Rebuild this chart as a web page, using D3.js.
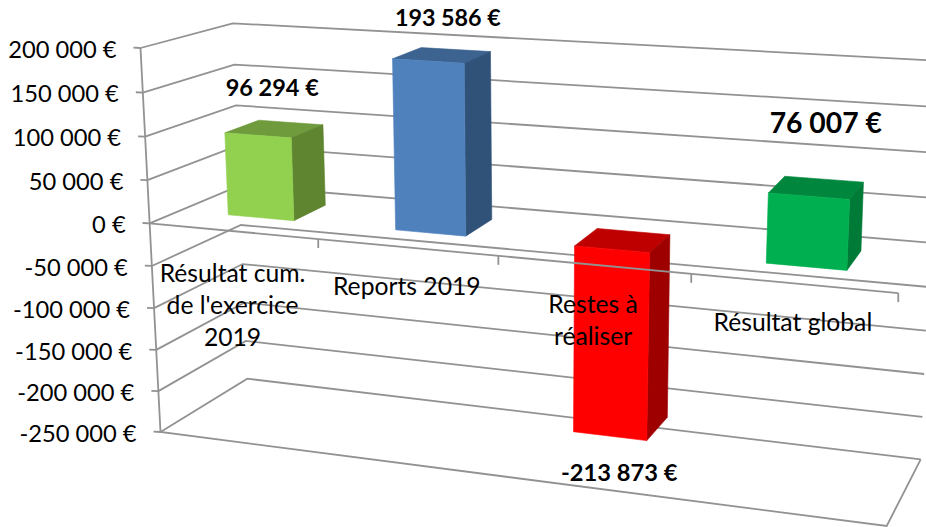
<!DOCTYPE html>
<html><head><meta charset="utf-8">
<script src="https://cdn.jsdelivr.net/npm/d3@7"></script>
<style>html,body{margin:0;padding:0;background:#fff}svg{display:block}text{font-family:Lato,"Open Sans",sans-serif;fill:#000}</style>
</head><body><svg id="c" width="926" height="527"></svg>
<script>
const categories = ["Résultat cum. de l'exercice 2019", "Reports 2019", "Restes à réaliser", "Résultat global"];
const categoryLines = [["Résultat cum.", "de l'exercice", "2019"], ["Reports 2019"], ["Restes à", "réaliser"], ["Résultat global"]];
const values = [96294, 193586, -213873, 76007];
const valueLabels = ["96 294 €", "193 586 €", "-213 873 €", "76 007 €"];
const yTicks = [200000, 150000, 100000, 50000, 0, -50000, -100000, -150000, -200000, -250000];

// layout of the perspective box: corners [depth front/back][x left/right][top/bottom]
const box = {
  flt:[140.5,48],  flb:[160.5,432],  frt:[908,97.5],    frb:[886.7,526],
  blt:[232.7,23.3],blb:[247.3,378.7],brt:[936.7,60.6],  brb:[920.7,459.3]
};
const persp = (t,k)=>t*k/(1+t*(k-1));
const K_U=.872, K_S=1.05, V0=.34, V1=.73;
const yScale = d3.scaleLinear().domain([200000,-250000]).range([0,1]);
const xScale = d3.scaleBand().domain(categories).range([0,1]).paddingInner(.6).paddingOuter(.3);
const lerp=(a,b,t)=>a+(b-a)*t;
function P(u,v,val){
  const a=persp(u,K_U), s=persp(yScale(val),K_S);
  return [0,1].map(i=>{
    const front=lerp(lerp(box.flt[i],box.frt[i],a),lerp(box.flb[i],box.frb[i],a),s);
    const back =lerp(lerp(box.blt[i],box.brt[i],a),lerp(box.blb[i],box.brb[i],a),s);
    return lerp(front,back,v);
  });
}
const svg=d3.select("#c");
const GRID="#929292", GW=1.8;
const line=d3.line();
const fr=d3.formatLocale({decimal:",",thousands:" ",grouping:[3],currency:["",""],minus:"-"}).format(",d");

// walls
const g=svg.append("g").attr("fill","none").attr("stroke",GRID).attr("stroke-width",GW);
yTicks.forEach(t=>{
  g.append("path").attr("d",line([P(0,0,t),P(0,1,t),P(1,1,t)]));
  const p=P(0,0,t);
  g.append("path").attr("d",line([[p[0]-7,p[1]-.3],p]));
});
g.append("path").attr("d",line([P(0,0,200000),P(0,0,-250000),P(1,0,-250000),P(1,1,-250000)]));

// bars
const palette=[["#92D050","#6F9B3C","#5F8530"],["#4F81BD","#3D6390","#315278"],["#FF0000","#BF0000","#9E0000"],["#00B050","#00873D","#007A37"]];
const bars=svg.append("g");
categories.forEach((c,i)=>{
  const u0=xScale(c),u1=u0+xScale.bandwidth(),v=values[i];
  const hi=Math.max(v,0),lo=Math.min(v,0);
  const poly=(pts,f)=>bars.append("path").attr("d",line(pts)+"Z").attr("fill",f).attr("stroke",f).attr("stroke-width",.6);
  poly([P(u0,V0,hi),P(u0,V1,hi),P(u1,V1,hi),P(u1,V0,hi)],palette[i][1]);
  poly([P(u1,V0,hi),P(u1,V1,hi),P(u1,V1,lo),P(u1,V0,lo)],palette[i][2]);
  poly([P(u0,V0,hi),P(u1,V0,hi),P(u1,V0,lo),P(u0,V0,lo)],palette[i][0]);
});

// category axis at zero
const ax=svg.append("g").attr("fill","none").attr("stroke",GRID).attr("stroke-width",GW);
ax.append("path").attr("d",line([P(0,0,0),P(1,0,0)]));
d3.range(1,5).forEach(i=>{const p=P(i/4,0,0);ax.append("path").attr("d",line([p,[p[0],p[1]+9]]));});

// y labels
const TICK_GAP=24;
svg.append("g").selectAll("text").data(yTicks).join("text")
  .attr("x",d=>P(0,0,d)[0]-TICK_GAP).attr("y",d=>P(0,0,d)[1]+1.5).attr("dy","0.35em")
  .attr("text-anchor","end").attr("font-size",23.7).text(d=>fr(d)+" €");

// category labels
const LH=32;
categories.forEach((c,i)=>{
  const p=P((i+.5)/4,0,0);
  const t=svg.append("text").attr("text-anchor","middle").attr("font-size",24.7);
  categoryLines[i].forEach((s,j)=>t.append("tspan").attr("x",p[0]).attr("y",p[1]+48+(i==0?3:0)+j*LH).text(s));
});

// value labels
const labelDY=[-41,-37,48,-65];
const labelDX=[-2,6,-1.5,9.5];
const labelFS=[23.5,23.3,23.7,28.3];
values.forEach((v,i)=>{
  const c=categories[i],u=xScale(c)+xScale.bandwidth()/2;
  const p=P(u,(V0+V1)/2,v);
  svg.append("text").attr("x",p[0]+labelDX[i]).attr("y",p[1]+labelDY[i]).attr("dy","0.35em")
    .attr("text-anchor","middle").attr("font-size",labelFS[i]).attr("font-weight",700).text(valueLabels[i]);
});
</script></body></html>
